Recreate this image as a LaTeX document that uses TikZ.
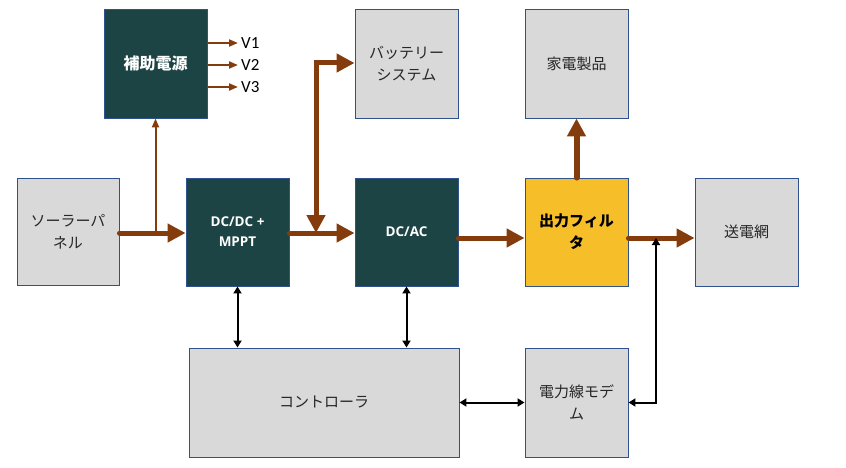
\documentclass[tikz,border=0pt]{standalone}
\usepackage{fontspec}
\setmainfont{Noto Sans CJK JP}
\newfontfamily\latfont{Open Sans}
\newfontfamily\vfont{Carlito}
\usetikzlibrary{arrows.meta}
\definecolor{teal}{HTML}{1D4444}
\definecolor{bord}{HTML}{2F528F}
\definecolor{grayfill}{HTML}{D9D9D9}
\definecolor{brown}{HTML}{843C0C}
\definecolor{yel}{HTML}{F6BE28}
\definecolor{txtgray}{HTML}{262626}
\tikzset{
  blk/.style={draw=bord, line width=0.9pt, minimum width=103pt, minimum height=109pt, inner sep=0pt, align=center},
  graybox/.style={blk, fill=grayfill, text=txtgray, font=\fontsize{15}{22}\selectfont},
  darkbox/.style={blk, fill=teal, text=white, font=\latfont\bfseries\fontsize{13.5}{20}\selectfont},
  yelbox/.style={blk, fill=yel, text=black, font=\bfseries\fontsize{15}{22}\selectfont},
  power/.style={draw=brown, line width=5pt, line cap=round, -{Triangle[length=18pt,width=18pt]}},
  powerboth/.style={draw=brown, line width=5pt, {Triangle[length=18pt,width=18pt]}-{Triangle[length=18pt,width=18pt]}},
  thinpower/.style={draw=brown, line width=2pt, -{Triangle[length=9pt,width=7pt]}},
  ctl/.style={draw=black, line width=2pt, {Triangle[length=7pt,width=8pt]}-{Triangle[length=7pt,width=8pt]}},
  vlab/.style={font=\vfont\fontsize{17}{20}\selectfont, text=black, anchor=west, inner sep=0pt}
}
\begin{document}
\begin{tikzpicture}[x=1pt,y=-1pt]
\useasboundingbox (0,0) rectangle (846,468);
% nodes
\node[darkbox, font=\bfseries\fontsize{16}{22}\selectfont] (aux) at (155.5,63.5) {補助電源};
\node[graybox] (batt) at (406.5,63.5) {バッテリー\\システム};
\node[graybox] (home) at (576.5,63.5) {家電製品};
\node[graybox, minimum width=102pt, minimum height=107pt] (solar) at (68,231.5) {ソーラーパ\\ネル};
\node[darkbox, minimum height=108pt] (dcdc) at (237.5,232) {DC/DC +\\MPPT};
\node[darkbox, minimum height=108pt] (dcac) at (406.5,232) {DC/AC};
\node[yelbox, minimum height=108pt] (filt) at (576.5,232) {出力フィル\\タ};
\node[graybox, minimum height=108pt] (grid) at (746.5,232) {送電網};
\node[graybox, minimum width=270pt] (ctrl) at (324,402.5) {コントローラ};
\node[graybox] (modem) at (576.5,402.5) {電力線モデ\\ム};
% coordinates
\coordinate (j1) at (155.5,233);
\coordinate (j2) at (316,233);
\coordinate (j3) at (316,63);
\coordinate (j4) at (656,238);
\coordinate (j5) at (656,402.5);
\coordinate (v1) at (238,43);
\coordinate (v2) at (238,65);
\coordinate (v3) at (238,87);
% V outputs
\draw[thinpower] (aux.east |- v1) -- (v1);
\draw[thinpower] (aux.east |- v2) -- (v2);
\draw[thinpower] (aux.east |- v3) -- (v3);
\node[vlab] (lv1) at (241,43) {V1};
\node[vlab] (lv2) at (241,65) {V2};
\node[vlab] (lv3) at (241,87) {V3};
% power flow
\draw[thinpower] (j1) -- (aux.south);
\draw[power] (solar.east |- j1) -- (dcdc.west |- j1);
\draw[power] (dcdc.east |- j1) -- (dcac.west |- j1);
\draw[powerboth, line join=miter] (j2) -- (j3) -- (batt.west |- j3);
\draw[power] (dcac.east |- j4) -- (filt.west |- j4);
\draw[power] (filt.east |- j4) -- (grid.west |- j4);
\draw[power, line width=6pt] (filt.north) -- (home.south);
% control
\draw[ctl] (dcdc.south) -- (dcdc.south |- ctrl.north);
\draw[ctl] (dcac.south) -- (dcac.south |- ctrl.north);
\draw[ctl] (ctrl.east) -- (modem.west);
\draw[ctl, line join=miter] (modem.east) -- (j5) -- (j4);
\end{tikzpicture}
\end{document}
